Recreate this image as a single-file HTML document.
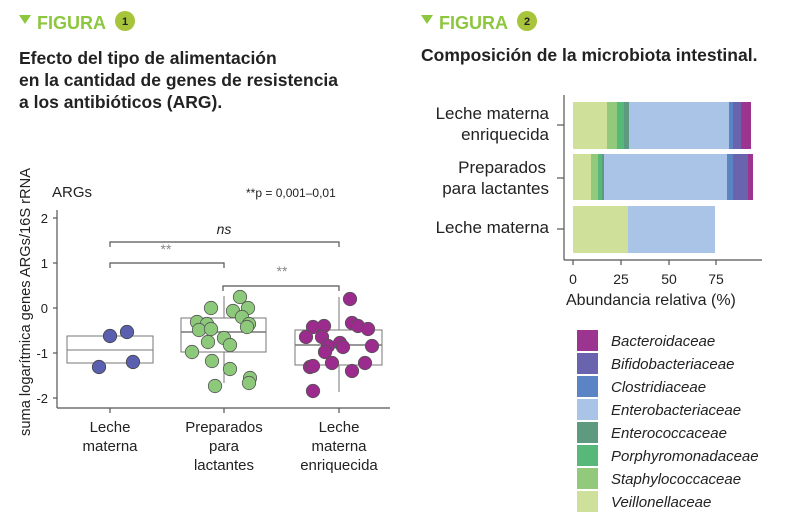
<!DOCTYPE html>
<html><head><meta charset="utf-8"><style>
body{margin:0;background:#fff}
svg{display:block}
text{font-family:"Liberation Sans",sans-serif}
</style></head><body>
<svg width="790" height="530" viewBox="0 0 790 530" xmlns="http://www.w3.org/2000/svg">
<polygon points="19,15 31,15 25,24" fill="#8dc63f"/>
<text x="37" y="29" font-size="18" font-weight="bold" fill="#8dc63f">FIGURA</text>
<circle cx="125" cy="21" r="10" fill="#a8c43a"/>
<text x="125" y="25" font-size="11" font-weight="bold" text-anchor="middle" fill="#222">1</text>
<text font-size="17.5" font-weight="bold" fill="#222"><tspan x="19" y="64">Efecto del tipo de alimentación</tspan><tspan x="19" y="86">en la cantidad de genes de resistencia</tspan><tspan x="19" y="108">a los antibióticos (ARG).</tspan></text>

<polygon points="421,15 433,15 427,24" fill="#8dc63f"/>
<text x="439" y="29" font-size="18" font-weight="bold" fill="#8dc63f">FIGURA</text>
<circle cx="527" cy="21" r="10" fill="#a8c43a"/>
<text x="527" y="25" font-size="11" font-weight="bold" text-anchor="middle" fill="#222">2</text>
<text x="421" y="61" font-size="17.5" font-weight="bold" fill="#222">Composición de la microbiota intestinal.</text>

<text x="52" y="197" font-size="15" fill="#222">ARGs</text>
<text x="246" y="197" font-size="12" fill="#222">**p = 0,001–0,01</text>
<text transform="translate(30,436) rotate(-90)" font-size="14.5" fill="#222" textLength="268" lengthAdjust="spacingAndGlyphs">suma logarítmica genes ARGs/16S rRNA</text>
<g stroke="#555" stroke-width="1.2" fill="none">
<line x1="57" y1="210" x2="57" y2="408"/>
<line x1="57" y1="408" x2="390" y2="408"/>
<line x1="53" y1="218" x2="57" y2="218"/><line x1="53" y1="263" x2="57" y2="263"/><line x1="53" y1="308" x2="57" y2="308"/><line x1="53" y1="353" x2="57" y2="353"/><line x1="53" y1="398" x2="57" y2="398"/>
<line x1="110" y1="408" x2="110" y2="413"/><line x1="224" y1="408" x2="224" y2="413"/><line x1="339" y1="408" x2="339" y2="413"/>
<polyline points="110,247 110,242 339,242 339,247"/>
<polyline points="110,268 110,263 224,263 224,268"/>
<polyline points="223,291 223,286 339,286 339,291"/>
</g>
<g font-size="13" fill="#222" text-anchor="end"><text x="48" y="223">2</text><text x="48" y="268">1</text><text x="48" y="313">0</text><text x="48" y="358">-1</text><text x="48" y="403">-2</text></g>
<text x="224" y="234" font-size="14" font-style="italic" fill="#222" text-anchor="middle">ns</text>
<text x="166" y="254" font-size="14" fill="#888" text-anchor="middle">**</text>
<text x="282" y="276" font-size="14" fill="#888" text-anchor="middle">**</text>
<g stroke="#777" stroke-width="1" fill="none">
<rect x="67" y="336" width="86" height="27"/><line x1="67" y1="350" x2="153" y2="350"/>
<line x1="224" y1="296" x2="224" y2="318"/><line x1="224" y1="352" x2="224" y2="383"/>
<rect x="181" y="318" width="85" height="34"/><line x1="181" y1="332" x2="266" y2="332" stroke-width="1.5"/>
<line x1="339" y1="297" x2="339" y2="330"/><line x1="339" y1="365" x2="339" y2="392"/>
<rect x="295" y="330" width="87" height="35"/><line x1="295" y1="345" x2="382" y2="345" stroke-width="1.5"/>
</g>
<g fill="#5b5fb0" stroke="#444" stroke-width="0.8">
<circle cx="110" cy="336" r="6.7"/><circle cx="127" cy="332" r="6.7"/><circle cx="99" cy="367" r="6.7"/><circle cx="133" cy="362" r="6.7"/>
</g>
<g fill="#8dc97a" stroke="#555" stroke-width="0.8">
<circle cx="240" cy="297" r="6.7"/><circle cx="211" cy="308" r="6.7"/><circle cx="248" cy="308" r="6.7"/><circle cx="233" cy="311" r="6.7"/><circle cx="242" cy="317" r="6.7"/><circle cx="197" cy="322" r="6.7"/><circle cx="207" cy="324" r="6.7"/><circle cx="249" cy="324" r="6.7"/><circle cx="247" cy="327" r="6.7"/><circle cx="199" cy="330" r="6.7"/><circle cx="211" cy="329" r="6.7"/><circle cx="224" cy="338" r="6.7"/><circle cx="208" cy="342" r="6.7"/><circle cx="230" cy="345" r="6.7"/><circle cx="192" cy="352" r="6.7"/><circle cx="212" cy="361" r="6.7"/><circle cx="230" cy="369" r="6.7"/><circle cx="250" cy="378" r="6.7"/><circle cx="249" cy="383" r="6.7"/><circle cx="215" cy="386" r="6.7"/>
</g>
<g fill="#9b2b8c" stroke="#555" stroke-width="0.8">
<circle cx="350" cy="299" r="6.7"/><circle cx="352" cy="323" r="6.7"/><circle cx="358" cy="326" r="6.7"/><circle cx="368" cy="329" r="6.7"/><circle cx="313" cy="327" r="6.7"/><circle cx="324" cy="326" r="6.7"/><circle cx="306" cy="337" r="6.7"/><circle cx="322" cy="337" r="6.7"/><circle cx="328" cy="346" r="6.7"/><circle cx="340" cy="343" r="6.7"/><circle cx="343" cy="347" r="6.7"/><circle cx="325" cy="352" r="6.7"/><circle cx="372" cy="346" r="6.7"/><circle cx="365" cy="363" r="6.7"/><circle cx="310" cy="367" r="6.7"/><circle cx="313" cy="366" r="6.7"/><circle cx="332" cy="363" r="6.7"/><circle cx="352" cy="371" r="6.7"/><circle cx="313" cy="391" r="6.7"/>
</g>
<g font-size="15" fill="#222" text-anchor="middle">
<text x="110" y="432">Leche</text><text x="110" y="451">materna</text>
<text x="224" y="432">Preparados</text><text x="224" y="451">para</text><text x="224" y="470">lactantes</text>
<text x="339" y="432">Leche</text><text x="339" y="451">materna</text><text x="339" y="470">enriquecida</text>
</g>

<g stroke="#555" stroke-width="1.2" fill="none">
<line x1="564" y1="95" x2="564" y2="260"/><line x1="564" y1="260" x2="762" y2="260"/>
<line x1="557" y1="125" x2="564" y2="125"/><line x1="557" y1="178" x2="564" y2="178"/><line x1="557" y1="229" x2="564" y2="229"/>
<line x1="573" y1="260" x2="573" y2="265"/><line x1="621" y1="260" x2="621" y2="265"/><line x1="669" y1="260" x2="669" y2="265"/><line x1="716" y1="260" x2="716" y2="265"/>
</g>
<rect x="573" y="102" width="34" height="47" fill="#cfe09a"/>
<rect x="607" y="102" width="10" height="47" fill="#93c97b"/>
<rect x="617" y="102" width="7" height="47" fill="#58b87a"/>
<rect x="624" y="102" width="5" height="47" fill="#5d9a80"/>
<rect x="629" y="102" width="100" height="47" fill="#a9c4e6"/>
<rect x="729" y="102" width="4" height="47" fill="#5b84c4"/>
<rect x="733" y="102" width="8" height="47" fill="#6a63ad"/>
<rect x="741" y="102" width="10" height="47" fill="#9c3590"/>
<rect x="573" y="154" width="18" height="46" fill="#cfe09a"/>
<rect x="591" y="154" width="7" height="46" fill="#93c97b"/>
<rect x="598" y="154" width="4" height="46" fill="#58b87a"/>
<rect x="602" y="154" width="2" height="46" fill="#5d9a80"/>
<rect x="604" y="154" width="123" height="46" fill="#a9c4e6"/>
<rect x="727" y="154" width="6" height="46" fill="#5b84c4"/>
<rect x="733" y="154" width="15" height="46" fill="#6a63ad"/>
<rect x="748" y="154" width="5" height="46" fill="#9c3590"/>
<rect x="573" y="206" width="55" height="47" fill="#cfe09a"/>
<rect x="628" y="206" width="87" height="47" fill="#a9c4e6"/>
<g font-size="17" fill="#222" text-anchor="end">
<text x="549" y="119">Leche materna</text><text x="549" y="140">enriquecida</text>
<text x="546" y="173">Preparados</text><text x="549" y="194">para lactantes</text>
<text x="549" y="233">Leche materna</text>
</g>
<g font-size="14" fill="#222" text-anchor="middle">
<text x="573" y="284">0</text><text x="621" y="284">25</text><text x="669" y="284">50</text><text x="716" y="284">75</text>
</g>
<text x="566" y="305" font-size="16" fill="#222">Abundancia relativa (%)</text>
<g>
<rect x="577" y="330" width="21" height="21" fill="#9c3590"/>
<rect x="577" y="353" width="21" height="21" fill="#6a63ad"/>
<rect x="577" y="376" width="21" height="21" fill="#5b84c4"/>
<rect x="577" y="399" width="21" height="21" fill="#a9c4e6"/>
<rect x="577" y="422" width="21" height="21" fill="#5d9a80"/>
<rect x="577" y="445" width="21" height="21" fill="#58b87a"/>
<rect x="577" y="468" width="21" height="21" fill="#93c97b"/>
<rect x="577" y="491" width="21" height="21" fill="#cfe09a"/>
</g>
<g font-size="15" font-style="italic" fill="#222">
<text x="611" y="346">Bacteroidaceae</text>
<text x="611" y="369">Bifidobacteriaceae</text>
<text x="611" y="392">Clostridiaceae</text>
<text x="611" y="415">Enterobacteriaceae</text>
<text x="611" y="438">Enterococcaceae</text>
<text x="611" y="461">Porphyromonadaceae</text>
<text x="611" y="484">Staphylococcaceae</text>
<text x="611" y="507">Veillonellaceae</text>
</g>
</svg>
</body></html>
